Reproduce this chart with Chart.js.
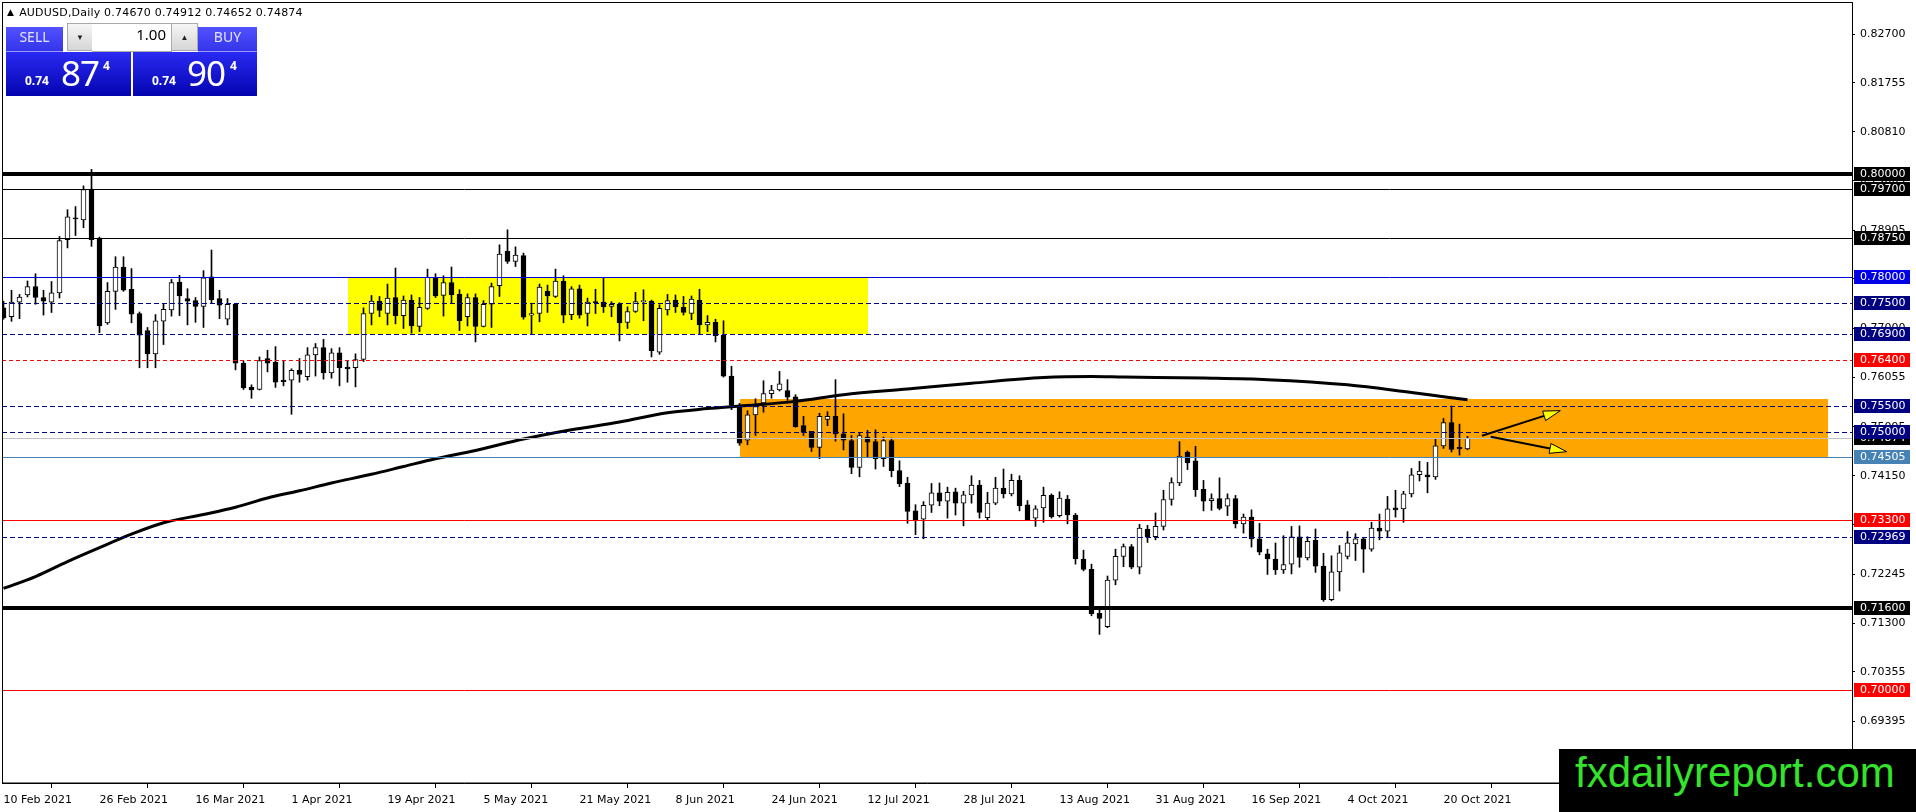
<!DOCTYPE html>
<html>
<head>
<meta charset="utf-8">
<title>AUDUSD,Daily</title>
<script src="https://cdn.jsdelivr.net/npm/chart.js@4.4.1/dist/chart.umd.min.js"></script>
<style>
  html, body { margin: 0; padding: 0; background: #fff; overflow: hidden; }
  #wrap { position: relative; width: 1916px; height: 812px; }
  #myChart { position: absolute; left: 0; top: 0; }
  #header { position: absolute; left: 7px; top: 6px; font: 11px "DejaVu Sans"; color: #000; white-space: pre; letter-spacing: 0.2px; }
  #header .tri { font-size: 9px; position: relative; top: -1px; margin-right: 5px; }
  .ocbtn { position: absolute; top: 27px; height: 24px; line-height: 24px; text-align: center;
           background: linear-gradient(#5252ff, #3434ea); color: #e4e4ff; font: 14px "Noto Sans";
           border-bottom: 1px solid #9a9aff; }
  .spin { position: absolute; top: 23px; height: 28px; line-height: 28px; text-align: center; box-sizing: border-box;
          background: linear-gradient(#f6f6f6, #d6d6d6); border: 1px solid #aaa; font-size: 8px; color: #222; }
  .lot { position: absolute; top: 23px; height: 29px; line-height: 29px; box-sizing: border-box; text-align: right;
         background: #fff; border-top: 1px solid #aaa; border-bottom: 1px solid #aaa; padding-right: 6px;
         font: 15px "Noto Sans"; color: #000; }
  .pbox { position: absolute; top: 52px; height: 44px; background: linear-gradient(#2a2af2, #0404b0); color: #fff; font-family: "Noto Sans"; }
  .pbox span { position: absolute; line-height: 1; white-space: nowrap; }
  .pbox .s { font-size: 12px; font-weight: bold; top: 23px; }
  .pbox .b { font-size: 35px; top: 3px; letter-spacing: -1px; }
  .pbox .p { font-size: 12px; font-weight: bold; top: 8px; }
  #mark { position: absolute; left: 1559px; top: 749px; width: 357px; height: 63px; background: #000; }
  #mark span { position: absolute; left: 16px; top: 0; line-height: 53px; font: 42px "Liberation Sans"; color: #35e22c; white-space: nowrap; }
</style>
</head>
<body>
<div id="wrap">
  <canvas id="myChart" width="1916" height="812"></canvas>
  <div id="header"><span class="tri">▲</span>AUDUSD,Daily 0.74670 0.74912 0.74652 0.74874</div>
  <div class="ocbtn" style="left:6px;width:57px">SELL</div>
  <div class="spin" style="left:67px;width:26px">▼</div>
  <div class="lot" style="left:92px;width:80px">1.00</div>
  <div class="spin" style="left:171px;width:27px">▲</div>
  <div class="ocbtn" style="left:198px;width:59px">BUY</div>
  <div class="pbox" style="left:6px;width:125px"><span class="s" style="left:19px">0.74</span><span class="b" style="left:55px">87</span><span class="p" style="left:97px">4</span></div>
  <div class="pbox" style="left:133px;width:124px"><span class="s" style="left:19px">0.74</span><span class="b" style="left:54px">90</span><span class="p" style="left:97px">4</span></div>
  <div id="mark"><span>fxdailyreport.com</span></div>
</div>
<script>
// daily bars, index 0 = 10 Feb 2021
const opens = [
  0.7740,0.7723,0.7751,0.7765,0.7781,0.7760,0.7751,0.7769,0.7872,0.7914,
  0.7910,0.7970,0.7875,0.7711,0.7772,0.7819,0.7776,0.7729,0.7696,0.7651,
  0.7714,0.7736,0.7790,0.7758,0.7754,0.7743,0.7800,0.7758,0.7718,0.7747,
  0.7633,0.7586,0.7582,0.7642,0.7635,0.7600,0.7600,0.7619,0.7607,0.7649,
  0.7663,0.7614,0.7653,0.7625,0.7624,0.7640,0.7729,0.7753,0.7729,0.7760,
  0.7725,0.7755,0.7704,0.7739,0.7799,0.7764,0.7789,0.7766,0.7723,0.7760,
  0.7704,0.7747,0.7783,0.7850,0.7830,0.7841,0.7726,0.7729,0.7772,0.7762,
  0.7792,0.7727,0.7777,0.7729,0.7751,0.7751,0.7743,0.7747,0.7712,0.7733,
  0.7752,0.7753,0.7654,0.7736,0.7755,0.7741,0.7729,0.7755,0.7707,0.7712,
  0.7687,0.7608,0.7551,0.7484,0.7533,0.7556,0.7574,0.7581,0.7580,0.7568,
  0.7512,0.7501,0.7470,0.7524,0.7530,0.7496,0.7483,0.7431,0.7490,0.7481,
  0.7448,0.7483,0.7425,0.7401,0.7347,0.7331,0.7358,0.7382,0.7366,0.7384,
  0.7362,0.7378,0.7397,0.7334,0.7362,0.7391,0.7380,0.7406,0.7359,0.7333,
  0.7353,0.7377,0.7338,0.7370,0.7339,0.7254,0.7234,0.7149,0.7123,0.7213,
  0.7259,0.7278,0.7238,0.7312,0.7297,0.7317,0.7369,0.7401,0.7461,0.7444,
  0.7389,0.7367,0.7371,0.7356,0.7371,0.7322,0.7335,0.7293,0.7264,0.7254,
  0.7233,0.7244,0.7297,0.7256,0.7290,0.7240,0.7175,0.7229,0.7259,0.7283,
  0.7293,0.7273,0.7314,0.7308,0.7353,0.7351,0.7380,0.7417,0.7417,0.7413,
  0.7473,0.7518,0.7470,0.74670
];
const highs = [
  0.7753,0.7774,0.7766,0.7792,0.7806,0.7774,0.7791,0.7878,0.7930,0.7936,
  0.7976,0.8008,0.7877,0.7789,0.7839,0.7839,0.7816,0.7732,0.7702,0.7727,
  0.7747,0.7795,0.7803,0.7777,0.7760,0.7812,0.7852,0.7774,0.7758,0.7749,
  0.7637,0.7591,0.7645,0.7658,0.7665,0.7638,0.7622,0.7642,0.7663,0.7671,
  0.7679,0.7661,0.7663,0.7638,0.7651,0.7740,0.7764,0.7762,0.7786,0.7817,
  0.7763,0.7765,0.7760,0.7815,0.7806,0.7802,0.7819,0.7775,0.7767,0.7767,
  0.7754,0.7788,0.7862,0.7891,0.7858,0.7846,0.7749,0.7786,0.7784,0.7815,
  0.7802,0.7781,0.7784,0.7759,0.7776,0.7799,0.7752,0.7750,0.7742,0.7770,
  0.7775,0.7755,0.7746,0.7766,0.7765,0.7762,0.7763,0.7776,0.7725,0.7718,
  0.7715,0.7627,0.7555,0.7541,0.7564,0.7599,0.7590,0.7617,0.7601,0.7572,
  0.7530,0.7501,0.7536,0.7539,0.7601,0.7535,0.7493,0.7497,0.7503,0.7504,
  0.7490,0.7488,0.7444,0.7412,0.7359,0.7365,0.7400,0.7401,0.7393,0.7391,
  0.7385,0.7415,0.7406,0.7383,0.7412,0.7428,0.7418,0.7415,0.7367,0.7357,
  0.7393,0.7380,0.7384,0.7377,0.7342,0.7271,0.7244,0.7157,0.7221,0.7273,
  0.7283,0.7282,0.7321,0.7319,0.7343,0.7387,0.7411,0.7481,0.7463,0.7472,
  0.7406,0.7380,0.7411,0.7380,0.7377,0.7341,0.7349,0.7323,0.7273,0.7285,
  0.7299,0.7317,0.7318,0.7297,0.7312,0.7265,0.7260,0.7280,0.7307,0.7303,
  0.7296,0.7325,0.7341,0.7375,0.7387,0.7385,0.7429,0.7443,0.7441,0.7487,
  0.7526,0.7550,0.7515,0.74912
];
const lows = [
  0.7718,0.7714,0.7719,0.7761,0.7747,0.7726,0.7731,0.7759,0.7856,0.7880,
  0.7895,0.7859,0.7692,0.7708,0.7737,0.7772,0.7711,0.7624,0.7624,0.7624,
  0.7669,0.7724,0.7725,0.7707,0.7712,0.7702,0.7750,0.7719,0.7707,0.7620,
  0.7582,0.7565,0.7581,0.7616,0.7586,0.7589,0.7534,0.7596,0.7600,0.7608,
  0.7602,0.7604,0.7589,0.7596,0.7587,0.7636,0.7707,0.7723,0.7707,0.7709,
  0.7700,0.7691,0.7694,0.7737,0.7760,0.7724,0.7749,0.7696,0.7705,0.7674,
  0.7703,0.7702,0.7762,0.7826,0.7820,0.7718,0.7689,0.7713,0.7731,0.7760,
  0.7711,0.7717,0.7720,0.7705,0.7729,0.7731,0.7723,0.7676,0.7700,0.7731,
  0.7715,0.7645,0.7650,0.7726,0.7731,0.7726,0.7717,0.7689,0.7694,0.7674,
  0.7606,0.7543,0.7474,0.7475,0.7493,0.7538,0.7565,0.7579,0.7561,0.7509,
  0.7493,0.7462,0.7448,0.7512,0.7482,0.7465,0.7419,0.7413,0.7450,0.7428,
  0.7433,0.7413,0.7394,0.7323,0.7301,0.7293,0.7344,0.7357,0.7333,0.7339,
  0.7318,0.7362,0.7333,0.7329,0.7359,0.7372,0.7376,0.7347,0.7329,0.7317,
  0.7325,0.7333,0.7335,0.7322,0.7244,0.7231,0.7144,0.7108,0.7121,0.7204,
  0.7239,0.7235,0.7225,0.7286,0.7291,0.7310,0.7358,0.7396,0.7427,0.7375,
  0.7347,0.7348,0.7349,0.7338,0.7314,0.7304,0.7277,0.7262,0.7224,0.7224,
  0.7226,0.7225,0.7238,0.7252,0.7228,0.7172,0.7173,0.7192,0.7254,0.7251,
  0.7228,0.7269,0.7291,0.7295,0.7335,0.7325,0.7374,0.7405,0.7382,0.7408,
  0.7468,0.7461,0.7455,0.74652
];
const closes = [
  0.7721,0.7751,0.7761,0.7781,0.7760,0.7753,0.7769,0.7870,0.7916,0.7912,
  0.7969,0.7872,0.7705,0.7772,0.7819,0.7774,0.7728,0.7687,0.7651,0.7715,
  0.7737,0.7789,0.7763,0.7753,0.7743,0.7798,0.7756,0.7745,0.7747,0.7633,
  0.7585,0.7581,0.7638,0.7633,0.7596,0.7597,0.7619,0.7611,0.7649,0.7663,
  0.7614,0.7653,0.7624,0.7622,0.7640,0.7729,0.7753,0.7735,0.7759,0.7725,
  0.7755,0.7705,0.7741,0.7799,0.7763,0.7789,0.7765,0.7715,0.7760,0.7704,
  0.7747,0.7781,0.7844,0.7830,0.7842,0.7722,0.7729,0.7780,0.7763,0.7792,
  0.7726,0.7777,0.7726,0.7751,0.7750,0.7742,0.7747,0.7711,0.7733,0.7752,
  0.7753,0.7657,0.7739,0.7754,0.7742,0.7731,0.7757,0.7707,0.7712,0.7686,
  0.7608,0.7551,0.7478,0.7533,0.7549,0.7574,0.7581,0.7593,0.7567,0.7510,
  0.7499,0.7470,0.7530,0.7530,0.7496,0.7484,0.7431,0.7493,0.7480,0.7448,
  0.7483,0.7425,0.7399,0.7346,0.7330,0.7358,0.7382,0.7366,0.7383,0.7362,
  0.7378,0.7397,0.7344,0.7362,0.7391,0.7380,0.7406,0.7357,0.7330,0.7351,
  0.7377,0.7336,0.7372,0.7339,0.7254,0.7234,0.7148,0.7139,0.7213,0.7259,
  0.7278,0.7238,0.7314,0.7296,0.7317,0.7369,0.7402,0.7453,0.7440,0.7388,
  0.7366,0.7371,0.7352,0.7371,0.7322,0.7335,0.7293,0.7267,0.7254,0.7233,
  0.7243,0.7297,0.7257,0.7288,0.7240,0.7175,0.7229,0.7266,0.7285,0.7293,
  0.7273,0.7314,0.7308,0.7351,0.7349,0.7380,0.7417,0.7424,0.7413,0.7473,
  0.7518,0.7466,0.7467,0.74874
];

// moving average, read at a few bars
const maIdx = [0, 4, 8, 12, 16, 20, 25, 29, 33, 37, 41, 46, 50, 54, 59, 65, 71, 77, 83, 88,
               92, 99, 105, 113, 121, 130, 136, 140, 150, 158, 168, 176, 180, 183];
const maVals = [0.7197, 0.7220, 0.7249, 0.7276, 0.7302, 0.7324, 0.7340, 0.7354, 0.7372, 0.7386,
                0.7401, 0.7418, 0.7433, 0.7448, 0.7464, 0.7486, 0.7504, 0.7519, 0.7537, 0.7545,
                0.7550, 0.7559, 0.7572, 0.7583, 0.7594, 0.7605, 0.7607, 0.7606, 0.7604, 0.7601,
                0.7591, 0.7576, 0.7568, 0.7562];

const xTickIdx = [0, 12, 24, 36, 48, 60, 72, 84, 96, 108, 120, 132, 144, 156, 168, 180];
const xTickLabels = ['10 Feb 2021', '26 Feb 2021', '16 Mar 2021', '1 Apr 2021', '19 Apr 2021', '5 May 2021',
                     '21 May 2021', '8 Jun 2021', '24 Jun 2021', '12 Jul 2021', '28 Jul 2021', '13 Aug 2021',
                     '31 Aug 2021', '16 Sep 2021', '4 Oct 2021', '20 Oct 2021'];
const yTickVals = [0.82700, 0.81755, 0.80810, 0.79865, 0.78905, 0.77960, 0.77000, 0.76055,
                   0.75095, 0.74150, 0.73205, 0.72245, 0.71300, 0.70355, 0.69395, 0.68450];

// horizontal levels drawn on the chart
const levelPrices = [0.80000, 0.79700, 0.78750, 0.78000, 0.77500, 0.76900, 0.76400,
                     0.75500, 0.75000, 0.74505, 0.73300, 0.72969, 0.71600, 0.70000];
const levelKinds = ['thick', 'thin', 'thin', 'blue', 'dash', 'dash', 'reddash',
                    'dash', 'dash', 'steel', 'red', 'dash', 'thick', 'red'];

// zones: [fromBar, toBar, lowPrice, highPrice]
const yellowZone = [43, 108, 0.76900, 0.78000];
const orangeZone = [92, 228, 0.74505, 0.75630];
// arrows: [bar, price] start -> tip
const arrowFrom = [[184.8, 0.74926], [185.9, 0.74906]];
const arrowTo = [[194.6, 0.75410], [195.4, 0.74616]];

const kindStyle = {
  thick:   { color: '#000000', width: 4, dash: [],     tag: '#000000' },
  thin:    { color: '#000000', width: 1, dash: [],     tag: '#000000' },
  blue:    { color: '#0000d8', width: 1, dash: [],     tag: '#0000e6' },
  dash:    { color: '#000080', width: 1, dash: [5, 3], tag: '#000080' },
  reddash: { color: '#ff0000', width: 1, dash: [4, 3], tag: '#ff0000' },
  steel:   { color: '#4682b4', width: 1, dash: [],     tag: '#4682b4' },
  red:     { color: '#ff0000', width: 1, dash: [],     tag: '#ff0000' }
};

const bars = opens.map((o, i) => i);
const wickData = bars.map(i => ({ x: i, y: [lows[i], highs[i]] }));
const bodyData = bars.map(i => ({ x: i, y: [opens[i], closes[i]] }));
const bodyColors = bars.map(i => closes[i] >= opens[i] ? '#ffffff' : '#000000');
const maData = maIdx.map((b, k) => ({ x: b, y: maVals[k] }));
const lastClose = closes[closes.length - 1];

function yPix(chart, p) { return chart.scales.y.getPixelForValue(p); }
function xPix(chart, b) { return chart.scales.x.getPixelForValue(b); }

const overlay = {
  id: 'overlay',
  beforeDatasetsDraw(chart) {
    const { ctx, chartArea: a } = chart;
    ctx.save();
    ctx.beginPath();
    ctx.rect(a.left, a.top, a.right - a.left, a.bottom - a.top);
    ctx.clip();
    [[yellowZone, '#ffff00'], [orangeZone, '#ffa500']].forEach(([z, c]) => {
      const x0 = Math.round(xPix(chart, z[0])), x1 = Math.round(xPix(chart, z[1]));
      const y0 = Math.round(yPix(chart, z[3])), y1 = Math.round(yPix(chart, z[2]));
      ctx.fillStyle = c;
      ctx.fillRect(x0, y0, x1 - x0, y1 - y0);
    });
    ctx.restore();
  },
  afterDatasetsDraw(chart) {
    const { ctx, chartArea: a } = chart;
    ctx.save();
    ctx.beginPath();
    ctx.rect(a.left, a.top, a.right - a.left, a.bottom - a.top);
    ctx.clip();
    // current price line
    let py = Math.round(yPix(chart, lastClose)) + 0.5;
    ctx.strokeStyle = '#c0c0c0'; ctx.lineWidth = 1; ctx.setLineDash([]);
    ctx.beginPath(); ctx.moveTo(a.left, py); ctx.lineTo(a.right, py); ctx.stroke();
    levelPrices.forEach((p, k) => {
      const st = kindStyle[levelKinds[k]];
      const y = st.width % 2 ? Math.round(yPix(chart, p)) + 0.5 : Math.round(yPix(chart, p));
      ctx.strokeStyle = st.color; ctx.lineWidth = st.width; ctx.setLineDash(st.dash);
      ctx.beginPath(); ctx.moveTo(a.left, y); ctx.lineTo(a.right, y); ctx.stroke();
    });
    ctx.setLineDash([]);
    // arrows
    arrowFrom.forEach((f, k) => {
      const x0 = xPix(chart, f[0]), y0 = yPix(chart, f[1]);
      const x1 = xPix(chart, arrowTo[k][0]), y1 = yPix(chart, arrowTo[k][1]);
      const ang = Math.atan2(y1 - y0, x1 - x0), len = 17, half = 5;
      const bx = x1 - len * Math.cos(ang), by = y1 - len * Math.sin(ang);
      ctx.strokeStyle = '#000'; ctx.lineWidth = 2;
      ctx.beginPath(); ctx.moveTo(x0, y0); ctx.lineTo(bx, by); ctx.stroke();
      ctx.beginPath();
      ctx.moveTo(x1, y1);
      ctx.lineTo(bx + half * Math.sin(ang), by - half * Math.cos(ang));
      ctx.lineTo(bx - half * Math.sin(ang), by + half * Math.cos(ang));
      ctx.closePath();
      ctx.fillStyle = '#ffff00'; ctx.fill();
      ctx.lineWidth = 1; ctx.stroke();
    });
    ctx.restore();
    // frame
    ctx.save();
    ctx.strokeStyle = '#000'; ctx.lineWidth = 1;
    ctx.strokeRect(a.left + 0.5, a.top - 0.5, a.right - a.left, a.bottom - a.top + 0.5);
    ctx.restore();
  },
  afterDraw(chart) {
    const { ctx, chartArea: a } = chart;
    ctx.save();
    ctx.font = '11px "DejaVu Sans"';
    ctx.textBaseline = 'middle';
    const tag = (p, bg) => {
      const y = Math.round(yPix(chart, p));
      ctx.fillStyle = bg;
      ctx.fillRect(a.right + 2, y - 7, 56, 14);
      ctx.fillStyle = '#ffffff';
      ctx.fillText(p.toFixed(5), a.right + 8, y + 0.5);
    };
    tag(lastClose, '#000000');
    levelPrices.forEach((p, k) => tag(p, kindStyle[levelKinds[k]].tag));
    ctx.restore();
  }
};

Chart.defaults.font.family = '"DejaVu Sans"';
Chart.defaults.font.size = 11;
Chart.defaults.color = '#000';

const ctx = document.getElementById('myChart').getContext('2d');
const myChart = new Chart(ctx, {
  type: 'bar',
  data: {
    datasets: [
      {
        type: 'line',
        data: maData,
        borderColor: '#000000',
        borderWidth: 3,
        pointRadius: 0,
        cubicInterpolationMode: 'monotone',
        order: 0
      },
      {
        data: bodyData,
        backgroundColor: bodyColors,
        borderColor: '#000000',
        borderWidth: 1,
        borderSkipped: false,
        barThickness: 5,
        minBarLength: 1,
        grouped: false,
        order: 1
      },
      {
        data: wickData,
        backgroundColor: '#000000',
        borderWidth: 0,
        barThickness: 1,
        grouped: false,
        order: 2
      }
    ]
  },
  plugins: [overlay],
  options: {
    responsive: false,
    animation: false,
    devicePixelRatio: 1,
    layout: { padding: { left: 2, top: 3, right: 0, bottom: 0 } },
    plugins: { legend: { display: false }, tooltip: { enabled: false } },
    scales: {
      x: {
        type: 'linear',
        min: -0.1875,
        max: 231.0625,
        offset: false,
        grid: { display: true, drawOnChartArea: false, drawTicks: true, tickLength: 5, color: '#000' },
        border: { display: true, color: '#000' },
        ticks: {
          autoSkip: false, maxRotation: 0, minRotation: 0, align: 'start', padding: 6,
          callback: (v) => xTickLabels[xTickIdx.indexOf(v)]
        },
        afterBuildTicks: (s) => { s.ticks = xTickIdx.map(v => ({ value: v })); },
        afterFit: (s) => { s.height = 29; s.paddingLeft = 0; s.paddingRight = 0; }
      },
      y: {
        type: 'linear',
        position: 'right',
        min: 0.68204,
        max: 0.83300,
        grid: { display: true, drawOnChartArea: false, drawTicks: true, tickLength: 3, color: '#000' },
        border: { display: true, color: '#000' },
        ticks: { padding: 5, callback: (v) => v.toFixed(5) },
        afterBuildTicks: (s) => { s.ticks = yTickVals.map(v => ({ value: v })); },
        afterFit: (s) => { s.width = 64; s.paddingTop = 0; s.paddingBottom = 0; }
      }
    }
  }
});
</script>
</body>
</html>
